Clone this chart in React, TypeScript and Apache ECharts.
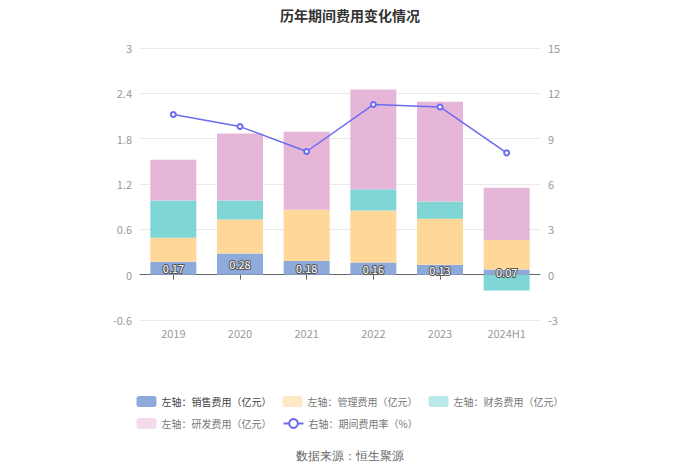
import React, { useEffect, useRef } from "react";
import * as echarts from "echarts";

const categories = ["2019", "2020", "2021", "2022", "2023", "2024H1"];
const salesExp = [0.17, 0.28, 0.18, 0.16, 0.13, 0.07];
const adminExp = [0.32, 0.45, 0.68, 0.69, 0.61, 0.39];
const financeExp = [0.49, 0.25, 0.0, 0.28, 0.23, -0.21];
const rdExp = [0.54, 0.89, 1.03, 1.32, 1.32, 0.69];
const expenseRate = [10.6, 9.8, 8.15, 11.26, 11.1, 8.06];

const leftTicks = { min: -0.6, max: 3, interval: 0.6 };
const rightTicks = { min: -3, max: 15, interval: 3 };

const seriesNames = [
  "左轴：销售费用（亿元）",
  "左轴：管理费用（亿元）",
  "左轴：财务费用（亿元）",
  "左轴：研发费用（亿元）",
  "右轴：期间费用率（%）",
];

export default function App() {
  const ref = useRef<HTMLDivElement>(null);
  useEffect(() => {
    if (!ref.current) return;
    const chart = echarts.init(ref.current, undefined, { renderer: "svg" });
    const axisLabel = { color: "#999", fontSize: 11 };
    chart.setOption({
      animation: false,
      textStyle: { fontFamily: "'Noto Sans CJK SC', 'Noto Sans', sans-serif" },
      title: {
        text: "历年期间费用变化情况",
        left: "center",
        top: 3,
        textStyle: { fontSize: 14, fontWeight: "bold", color: "#333" },
      },
      graphic: [
        {
          type: "text",
          left: "center",
          top: 450,
          style: { text: "数据来源：恒生聚源", fill: "#666", fontSize: 12 },
        },
      ],
      legend: {
        left: "center",
        top: 391,
        width: 440,
        itemWidth: 20,
        itemHeight: 11,
        itemGap: 11,
        textStyle: { color: "#777", fontSize: 10 },
        data: [
          { name: seriesNames[0], itemStyle: { color: "#8eaadb" }, textStyle: { color: "#444" } },
          { name: seriesNames[1], itemStyle: { color: "#ffe8c6" } },
          { name: seriesNames[2], itemStyle: { color: "#b9e9e9" } },
          { name: seriesNames[3], itemStyle: { color: "#f3dbec" } },
          { name: seriesNames[4] },
        ],
      },
      grid: { left: 140, right: 160, top: 48, bottom: 154 },
      xAxis: [
        {
          type: "category",
          data: categories,
          axisLine: { onZero: true, lineStyle: { color: "#666" } },
          axisTick: { show: true, alignWithLabel: true, lineStyle: { color: "#666" } },
          axisLabel: { show: false },
        },
        {
          type: "category",
          data: categories,
          position: "bottom",
          axisLine: { show: false, onZero: false },
          axisTick: { show: false },
          axisLabel: { ...axisLabel, margin: 7 },
        },
      ],
      yAxis: [
        {
          type: "value",
          ...leftTicks,
          axisLabel: { ...axisLabel, margin: 8 },
          axisLine: { show: false },
          axisTick: { show: false },
          splitLine: { lineStyle: { color: "#eaeaea" } },
        },
        {
          type: "value",
          ...rightTicks,
          position: "right",
          axisLabel: { ...axisLabel, margin: 8 },
          axisLine: { show: false },
          axisTick: { show: false },
          splitLine: { show: false },
        },
      ],
      series: [
        {
          name: seriesNames[0],
          type: "bar",
          stack: "exp",
          barWidth: "69%",
          data: salesExp,
          itemStyle: { color: "#8eaadb" },
          label: {
            show: true,
            position: "inside",
            color: "#fff",
            fontSize: 11,
            textBorderColor: "#555",
            textBorderWidth: 2,
          },
        },
        {
          name: seriesNames[1],
          type: "bar",
          stack: "exp",
          data: adminExp,
          itemStyle: { color: "#ffd899" },
        },
        {
          name: seriesNames[2],
          type: "bar",
          stack: "exp",
          data: financeExp,
          itemStyle: { color: "#80d5d5" },
        },
        {
          name: seriesNames[3],
          type: "bar",
          stack: "exp",
          data: rdExp,
          itemStyle: { color: "#e6b6d9" },
        },
        {
          name: seriesNames[4],
          type: "line",
          yAxisIndex: 1,
          data: expenseRate,
          symbol: "emptyCircle",
          symbolSize: 5,
          itemStyle: { color: "#6b6bf0" },
          lineStyle: { color: "#6b6bf0", width: 1.5 },
        },
      ],
    });
    return () => chart.dispose();
  }, []);
  return <div ref={ref} style={{ width: 700, height: 474, margin: -8 }} />;
}
